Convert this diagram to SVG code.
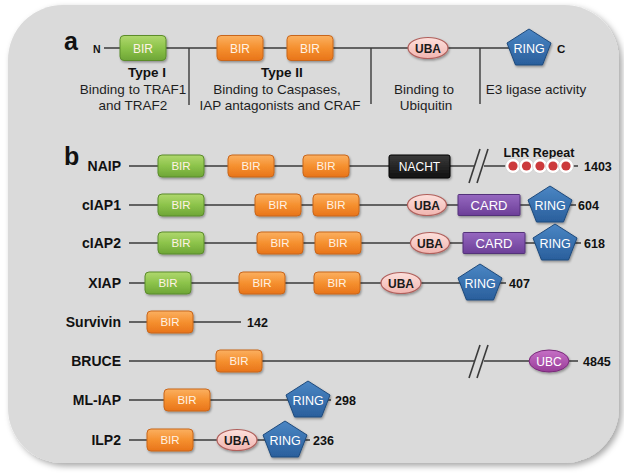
<svg xmlns="http://www.w3.org/2000/svg" xmlns:xlink="http://www.w3.org/1999/xlink" width="624" height="474" viewBox="0 0 624 474">
<defs>
<linearGradient id="gG" x1="0" y1="0" x2="0" y2="1"><stop offset="0" stop-color="#b0d86e"/><stop offset="0.5" stop-color="#8cc34a"/><stop offset="1" stop-color="#6ea536"/></linearGradient>
<linearGradient id="gO" x1="0" y1="0" x2="0" y2="1"><stop offset="0" stop-color="#fbb061"/><stop offset="0.5" stop-color="#f5902f"/><stop offset="1" stop-color="#e8741a"/></linearGradient>
<linearGradient id="gB" x1="0" y1="0" x2="0" y2="1"><stop offset="0" stop-color="#4a86c4"/><stop offset="1" stop-color="#2a5f9c"/></linearGradient>
<linearGradient id="gP" x1="0" y1="0" x2="0" y2="1"><stop offset="0" stop-color="#9668c0"/><stop offset="1" stop-color="#6c3f98"/></linearGradient>
<linearGradient id="gU" x1="0" y1="0" x2="0" y2="1"><stop offset="0" stop-color="#fde0dc"/><stop offset="1" stop-color="#f1b5b0"/></linearGradient>
<linearGradient id="gC" x1="0" y1="0" x2="0" y2="1"><stop offset="0" stop-color="#c670c6"/><stop offset="1" stop-color="#983c98"/></linearGradient>
<linearGradient id="gK" x1="0" y1="0" x2="0" y2="1"><stop offset="0" stop-color="#3a3a3a"/><stop offset="1" stop-color="#111"/></linearGradient>
<filter id="sh" x="-20%" y="-20%" width="150%" height="160%"><feDropShadow dx="1" dy="1.5" stdDeviation="1" flood-color="#000" flood-opacity="0.35"/></filter>
<filter id="bgsh" x="-5%" y="-5%" width="112%" height="112%"><feDropShadow dx="3" dy="3" stdDeviation="3" flood-color="#000" flood-opacity="0.35"/></filter>
<path id="pent" d="M0,-19 L22,-5 L13.5,17 L-13.5,17 L-22,-5Z"/>
</defs>
<style>
text{font-family:"Liberation Sans",Arial,sans-serif;}
.ln{stroke:#3a3a3a;stroke-width:1.6;fill:none}
.dv{stroke:#3a3a3a;stroke-width:1.4;fill:none}
.bg{fill:url(#gG);stroke:#5b8c2c;stroke-width:1;filter:url(#sh)}
.bo{fill:url(#gO);stroke:#c8661c;stroke-width:1;filter:url(#sh)}
.rg{fill:url(#gB);stroke:#1e4a7c;stroke-width:1;filter:url(#sh)}
.cd{fill:url(#gP);stroke:#53307a;stroke-width:1;filter:url(#sh)}
.ub{fill:url(#gU);stroke:#b0605c;stroke-width:1.2;filter:url(#sh)}
.uc{fill:url(#gC);stroke:#7a2c7a;stroke-width:1;filter:url(#sh)}
.nc{fill:url(#gK);stroke:#000;stroke-width:1;filter:url(#sh)}
.bt{fill:#fff2e4;font-size:11.5px;text-anchor:middle}
.wt{fill:#fff;font-size:12.5px;text-anchor:middle}
.ut{fill:#1a1a1a;font-size:12px;font-weight:bold;text-anchor:middle}
.nm{fill:#111;font-size:14px;font-weight:bold;text-anchor:end}
.num{fill:#111;font-size:12.5px;font-weight:bold}
.d{fill:#1e1e1e;font-size:13.5px;text-anchor:middle}
.db{fill:#111;font-size:13.5px;font-weight:bold;text-anchor:middle}
.big{fill:#111;font-size:25px;font-weight:bold}
.lw{fill:#fff;stroke:#cfcfcf;stroke-width:0.8}
.lr{fill:#cc3a3c}
</style>

<rect x="8" y="5" width="611" height="458" rx="55" ry="55" fill="#dadada" filter="url(#bgsh)"/>

<g id="panel-a">
  <text class="big" x="64" y="50">a</text>
  <g id="a-connectors">
    <line class="ln" x1="104" y1="48" x2="530" y2="48"/>
    <line class="dv" x1="189" y1="48" x2="189" y2="105"/>
    <line class="dv" x1="371" y1="48" x2="371" y2="104"/>
    <line class="dv" x1="480" y1="48" x2="480" y2="104"/>
  </g>
  <text x="93" y="53" style="font-size:10.5px;font-weight:bold;fill:#111">N</text>
  <g id="a-bir1"><rect class="bg" x="120" y="35.5" width="46" height="25" rx="4"/><text class="bt" x="143" y="52.5" style="font-size:12px">BIR</text></g>
  <g id="a-bir2"><rect class="bo" x="217" y="35.5" width="46" height="25" rx="4"/><text class="bt" x="240" y="52.5" style="font-size:12px">BIR</text></g>
  <g id="a-bir3"><rect class="bo" x="287" y="35.5" width="46" height="25" rx="4"/><text class="bt" x="310" y="52.5" style="font-size:12px">BIR</text></g>
  <g id="a-uba"><ellipse class="ub" cx="428" cy="48" rx="20" ry="10.5"/><text class="ut" x="428" y="52.5">UBA</text></g>
  <g id="a-ring"><use href="#pent" x="529" y="48" class="rg"/><text class="wt" x="529" y="52.5">RING</text></g>
  <text x="557" y="53" style="font-size:11.5px;font-weight:bold;fill:#111">C</text>
  <g id="a-texts">
    <text class="db" x="147" y="77">Type I</text>
    <text class="d" x="133" y="93.5">Binding to TRAF1</text>
    <text class="d" x="133" y="110">and TRAF2</text>
    <text class="db" x="282" y="77">Type II</text>
    <text class="d" x="277" y="93.5">Binding to Caspases,</text>
    <text class="d" x="280" y="110">IAP antagonists and CRAF</text>
    <text class="d" x="424" y="93.5">Binding to</text>
    <text class="d" x="426" y="110">Ubiquitin</text>
    <text class="d" x="536" y="93.5">E3 ligase activity</text>
  </g>
</g>

<text class="big" x="64" y="165">b</text>

<g id="connectors">
  <line class="ln" x1="129" y1="166" x2="474" y2="166"/>
  <line class="ln" x1="484" y1="166" x2="578" y2="166"/>
  <line class="ln" x1="469" y1="183" x2="480" y2="149"/>
  <line class="ln" x1="477" y1="183" x2="488" y2="149"/>
  <line class="ln" x1="129" y1="205" x2="576" y2="205"/>
  <line class="ln" x1="129" y1="243" x2="581" y2="243"/>
  <line class="ln" x1="129" y1="283" x2="506" y2="283"/>
  <line class="ln" x1="129" y1="322" x2="241" y2="322"/>
  <line class="ln" x1="129" y1="361" x2="474" y2="361"/>
  <line class="ln" x1="484" y1="361" x2="578" y2="361"/>
  <line class="ln" x1="469" y1="378" x2="480" y2="345"/>
  <line class="ln" x1="477" y1="378" x2="488" y2="345"/>
  <line class="ln" x1="129" y1="400" x2="331" y2="400"/>
  <line class="ln" x1="129" y1="440" x2="310" y2="440"/>
</g>

<g id="NAIP">
  <text class="nm" x="121" y="171">NAIP</text>
  <rect class="bg" x="158" y="155" width="46" height="22" rx="4"/><text class="bt" x="181" y="170">BIR</text>
  <rect class="bo" x="228" y="155" width="46" height="22" rx="4"/><text class="bt" x="251" y="170">BIR</text>
  <rect class="bo" x="303" y="155" width="46" height="22" rx="4"/><text class="bt" x="326" y="170">BIR</text>
  <rect class="nc" x="389" y="155" width="61" height="23" rx="2"/><text class="wt" x="419.5" y="171" style="font-size:12px">NACHT</text>
  <text x="539" y="157" style="font-size:12.5px;font-weight:bold;fill:#111;text-anchor:middle">LRR Repeat</text>
  <circle class="lw" cx="513" cy="166" r="7.5"/><circle class="lw" cx="526.5" cy="166" r="7.5"/><circle class="lw" cx="540" cy="166" r="7.5"/><circle class="lw" cx="553" cy="166" r="7.5"/><circle class="lw" cx="566" cy="166" r="7.5"/>
  <circle class="lr" cx="513" cy="166" r="4.6"/><circle class="lr" cx="526.5" cy="166" r="4.6"/><circle class="lr" cx="540" cy="166" r="4.6"/><circle class="lr" cx="553" cy="166" r="4.6"/><circle class="lr" cx="566" cy="166" r="4.6"/>
  <text class="num" x="584" y="171">1403</text>
</g>

<g id="cIAP1">
  <text class="nm" x="121" y="210">cIAP1</text>
  <rect class="bg" x="158" y="194" width="46" height="22" rx="4"/><text class="bt" x="181" y="209">BIR</text>
  <rect class="bo" x="255" y="194" width="46" height="22" rx="4"/><text class="bt" x="278" y="209">BIR</text>
  <rect class="bo" x="313" y="194" width="46" height="22" rx="4"/><text class="bt" x="336" y="209">BIR</text>
  <ellipse class="ub" cx="427" cy="205" rx="19.5" ry="10.5"/><text class="ut" x="427" y="209.5">UBA</text>
  <rect class="cd" x="458" y="194.5" width="62" height="21" rx="1"/><text class="wt" x="489" y="209.5" style="font-size:13px">CARD</text>
  <use href="#pent" x="550" y="205" class="rg"/><text class="wt" x="550" y="209.5">RING</text>
  <text class="num" x="578" y="210">604</text>
</g>

<g id="cIAP2">
  <text class="nm" x="121" y="248">cIAP2</text>
  <rect class="bg" x="158" y="232" width="46" height="22" rx="4"/><text class="bt" x="181" y="247">BIR</text>
  <rect class="bo" x="257" y="232" width="46" height="22" rx="4"/><text class="bt" x="280" y="247">BIR</text>
  <rect class="bo" x="315" y="232" width="46" height="22" rx="4"/><text class="bt" x="338" y="247">BIR</text>
  <ellipse class="ub" cx="430" cy="243" rx="19.5" ry="10.5"/><text class="ut" x="430" y="247.5">UBA</text>
  <rect class="cd" x="463" y="232.5" width="62" height="21" rx="1"/><text class="wt" x="494" y="247.5" style="font-size:13px">CARD</text>
  <use href="#pent" x="555" y="243" class="rg"/><text class="wt" x="555" y="247.5">RING</text>
  <text class="num" x="584" y="248">618</text>
</g>

<g id="XIAP">
  <text class="nm" x="121" y="288">XIAP</text>
  <rect class="bg" x="145" y="272" width="46" height="22" rx="4"/><text class="bt" x="168" y="287">BIR</text>
  <rect class="bo" x="239" y="272" width="46" height="22" rx="4"/><text class="bt" x="262" y="287">BIR</text>
  <rect class="bo" x="314" y="272" width="46" height="22" rx="4"/><text class="bt" x="337" y="287">BIR</text>
  <ellipse class="ub" cx="401" cy="283" rx="20" ry="10.5"/><text class="ut" x="401" y="287.5">UBA</text>
  <use href="#pent" x="480" y="283" class="rg"/><text class="wt" x="480" y="287.5">RING</text>
  <text class="num" x="509" y="288">407</text>
</g>

<g id="Survivin">
  <text class="nm" x="121" y="327">Survivin</text>
  <rect class="bo" x="147" y="311" width="46" height="22" rx="4"/><text class="bt" x="170" y="326">BIR</text>
  <text class="num" x="247" y="327">142</text>
</g>

<g id="BRUCE">
  <text class="nm" x="121" y="366">BRUCE</text>
  <rect class="bo" x="216" y="350" width="46" height="22" rx="4"/><text class="bt" x="239" y="365">BIR</text>
  <ellipse class="uc" cx="549" cy="361" rx="20" ry="11"/><text class="wt" x="549" y="365.5" style="font-size:12px">UBC</text>
  <text class="num" x="583" y="366">4845</text>
</g>

<g id="ML-IAP">
  <text class="nm" x="121" y="405">ML-IAP</text>
  <rect class="bo" x="164" y="389" width="46" height="22" rx="4"/><text class="bt" x="187" y="404">BIR</text>
  <use href="#pent" x="308" y="400" class="rg"/><text class="wt" x="308" y="404.5">RING</text>
  <text class="num" x="335" y="405">298</text>
</g>

<g id="ILP2">
  <text class="nm" x="121" y="445">ILP2</text>
  <rect class="bo" x="147" y="429" width="46" height="22" rx="4"/><text class="bt" x="170" y="444">BIR</text>
  <ellipse class="ub" cx="237" cy="440" rx="20" ry="10.5"/><text class="ut" x="237" y="444.5">UBA</text>
  <use href="#pent" x="285" y="440" class="rg"/><text class="wt" x="285" y="444.5">RING</text>
  <text class="num" x="313" y="445">236</text>
</g>
</svg>
